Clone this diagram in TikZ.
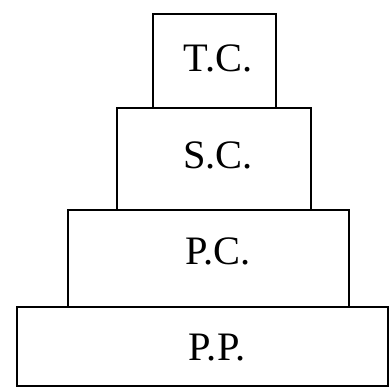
\documentclass[tikz,border=0pt]{standalone}
\usepackage{fontspec}
\setmainfont{Liberation Serif}
\usetikzlibrary{calc}

\tikzset{
  tier/.style={line width=1.1pt},
  tierlabel/.style={inner sep=0pt,font=\fontsize{23}{28}\selectfont}
}

\begin{document}
\begin{tikzpicture}[x=0.02cm,y=-0.02cm]
\useasboundingbox (0,0) rectangle (390,388);
% boxes, top to bottom
\foreach \l/\r/\t/\b in {153/276/14/108, 117/311/108/210, 68/349/210/307, 17/388/307/386}{
  \draw[tier] (\l,\t) rectangle (\r,\b);
}
% labels
\node[tierlabel] (tc) at (218,58) {T.C.};
\node[tierlabel] (sc) at (218,155) {S.C.};
\node[tierlabel] (pc) at (218,251) {P.C.};
\node[tierlabel] (pp) at (217,348) {P.P.};
\end{tikzpicture}
\end{document}
